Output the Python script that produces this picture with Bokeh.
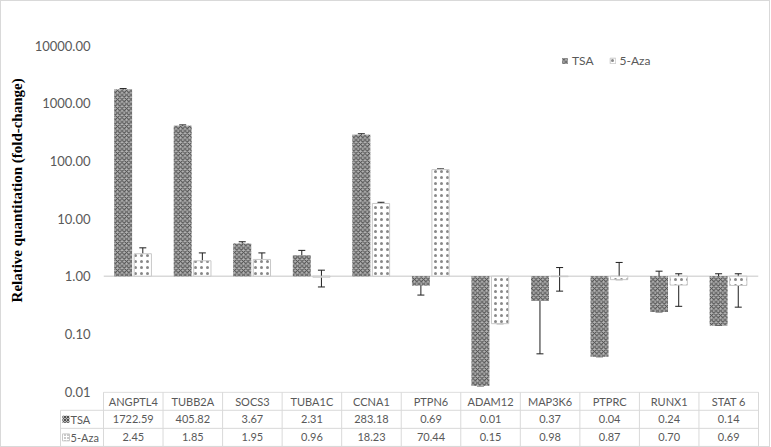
from bokeh.plotting import figure
from bokeh.models import (FactorRange, Range1d, ColumnDataSource, Whisker, Span,
                          Legend, LegendItem, FixedTicker, PrintfTickFormatter)
from bokeh.transform import dodge
from bokeh.core.properties import value
from bokeh.embed import file_html
from bokeh.resources import INLINE

# ---------------- data ----------------
genes = ["ANGPTL4", "TUBB2A", "SOCS3", "TUBA1C", "CCNA1", "PTPN6",
         "ADAM12", "MAP3K6", "PTPRC", "RUNX1", "STAT 6"]
series_names = ["TSA", "5-Aza"]
tsa = [1722.59, 405.82, 3.67, 2.31, 283.18, 0.69, 0.0125, 0.37, 0.04, 0.24, 0.14]
aza = [2.45, 1.85, 1.95, 0.96, 18.23, 70.44, 0.15, 0.98, 0.87, 0.70, 0.69]
tsa_upper = [1790, 420, 3.95, 2.80, 295, 0.93, 0.41, 0.70, 0.56, 1.22, 1.10]
tsa_lower = [1660, 392, 3.35, 1.78, 272, 0.47, 0.0125, 0.045, 0.04, 0.24, 0.14]
aza_upper = [3.10, 2.53, 2.53, 1.27, 19.1, 72.5, 0.64, 1.41, 1.73, 1.10, 1.10]
aza_lower = [1.84, 1.14, 1.31, 0.65, 17.4, 68.5, 0.15, 0.55, 0.87, 0.30, 0.29]
y_ticks = [0.01, 0.1, 1, 10, 100, 1000, 10000]
y_title = "Relative quantitation (fold-change)"

# ---------------- layout constants ----------------
W = 770
FL, FR = 103, 12
FT, FB = 45, 8
FH = 346
n = len(genes)
unit = (W - FL - FR) / n
GREY = "#595959"
EDGE = "#d9d9d9"
FONT = "Lato"
TITLE_SHIFT = "\u00a0" * 15   # moves the rotated title a little upward

TSA_STYLE = dict(fill_color="#b4b4b4", hatch_pattern="diagonal_cross",
                 hatch_color="#4c4c4c", hatch_scale=4.5, hatch_weight=1.1)
AZA_STYLE = dict(fill_color="white", hatch_pattern="dot",
                 hatch_color="#555555", hatch_scale=6, hatch_alpha=0.7)

src = ColumnDataSource(dict(gene=genes, tsa=tsa, aza=aza,
                            tsa_hi=tsa_upper, tsa_lo=tsa_lower,
                            aza_hi=aza_upper, aza_lo=aza_lower))

p = figure(width=W, height=FT + FH + FB, x_range=FactorRange(*genes),
           y_range=Range1d(y_ticks[0], y_ticks[-1]), y_axis_type="log",
           output_backend="svg", toolbar_location=None, title=None,
           min_border_left=FL, min_border_right=FR, min_border_top=FT,
           min_border_bottom=FB,
           styles={"box-shadow": f"inset 1px 1px 0 {EDGE}, inset -1px 0 0 {EDGE}"})
p.outline_line_color = None
p.border_fill_alpha = 0
p.grid.visible = False
p.xaxis.visible = False

base = Span(location=1, dimension="width", line_color=EDGE,
            line_width=1.5, level="underlay")
p.add_layout(base)

off1, off2 = -0.17, 0.16
r1 = p.vbar(x=dodge("gene", off1, range=p.x_range), top="tsa", bottom=1,
            width=0.30, source=src, line_color=None, **TSA_STYLE)
r2 = p.vbar(x=dodge("gene", off2, range=p.x_range), top="aza", bottom=1,
            width=0.29, source=src, line_color="#c8c8c8", line_width=1,
            **AZA_STYLE)

for off, hi, lo in [(off1, "tsa_hi", "tsa_lo"), (off2, "aza_hi", "aza_lo")]:
    w = Whisker(base=dodge("gene", off, range=p.x_range), upper=hi, lower=lo,
                source=src, line_color="#1e1e1e", line_width=1)
    w.upper_head.size = 7
    w.lower_head.size = 7
    w.upper_head.line_color = "#1e1e1e"
    w.lower_head.line_color = "#1e1e1e"
    p.add_layout(w)

ax = p.yaxis[0]
ax.ticker = FixedTicker(ticks=y_ticks)
ax.formatter = PrintfTickFormatter(format="%.2f")
ax.major_tick_line_color = None
ax.minor_tick_line_color = None
ax.major_tick_out = 0
ax.minor_tick_out = 0
ax.axis_line_color = None
ax.major_label_standoff = 13
ax.major_label_text_font = FONT
ax.major_label_text_font_size = "13px"
ax.major_label_text_color = GREY
ax.axis_label = TITLE_SHIFT + y_title
ax.axis_label_text_font = "Liberation Serif"
ax.axis_label_text_font_size = "15px"
ax.axis_label_text_font_style = "bold"
ax.axis_label_text_color = "black"
ax.axis_label_standoff = 7

legend = Legend(items=[LegendItem(label=series_names[0], renderers=[r1]),
                       LegendItem(label=series_names[1], renderers=[r2])],
                orientation="horizontal", location=(458, 323))
legend.glyph_width = 7
legend.glyph_height = 7
legend.label_height = 14
legend.label_standoff = 4
legend.spacing = 15
legend.padding = 0
legend.margin = 0
legend.border_line_color = None
legend.background_fill_alpha = 0
legend.label_text_font = FONT
legend.label_text_font_size = "12px"
legend.label_text_color = GREY
p.add_layout(legend, "center")

# ---------------- data table ----------------
TL, TR = 59, 11
x_start = (TL - FL) / unit
x_end = (W - TR - FL) / unit
lab_x = (TL + 1 - FL) / unit
nrows = len(series_names) + 1

t = figure(width=W, height=56, x_range=Range1d(x_start, x_end),
           y_range=Range1d(nrows + 0.06, -0.04), output_backend="svg",
           toolbar_location=None, title=None, min_border_left=TL,
           min_border_right=TR, min_border_top=0, min_border_bottom=0,
           styles={"margin-top": f"-{FB}px",
                   "box-shadow": f"inset 1px -1px 0 {EDGE}, inset -1px 0 0 {EDGE}"})
t.axis.visible = False
t.grid.visible = False
t.outline_line_color = None
t.background_fill_alpha = 0
t.border_fill_alpha = 0

x0s, y0s, x1s, y1s = [0], [0], [n], [0]
for r in range(1, nrows + 1):
    x0s.append(lab_x); x1s.append(n); y0s.append(r); y1s.append(r)
x0s.append(lab_x); x1s.append(lab_x); y0s.append(1); y1s.append(nrows)
for c in range(n + 1):
    x0s.append(c); x1s.append(c); y0s.append(0); y1s.append(nrows)
t.segment(x0=x0s, y0=y0s, x1=x1s, y1=y1s, line_color=EDGE, line_width=1)

cx = [i + 0.5 for i in range(n)]
txt = dict(text_align="center", text_baseline="middle", text_font=value(FONT),
           text_font_size="11px", text_color=GREY)
t.text(x=cx, y=[0.5] * n, text=genes, **txt)
t.text(x=cx, y=[1.5] * n, text=[f"{v:.2f}" for v in tsa], **txt)
t.text(x=cx, y=[2.5] * n, text=[f"{v:.2f}" for v in aza], **txt)

sw_x = (65.5 - FL) / unit
t.scatter(x=[sw_x], y=[1.5], marker="square", size=7, line_color=None,
          fill_color="#b4b4b4", hatch_pattern="diagonal_cross",
          hatch_color="#505050", hatch_scale=3, hatch_weight=1)
t.scatter(x=[sw_x], y=[2.5], marker="square", size=7, line_color="#c8c8c8",
          fill_color="white", hatch_pattern="dot", hatch_color="#404040",
          hatch_scale=3, hatch_alpha=0.7)
t.text(x=[(70 - FL) / unit] * 2, y=[1.5, 2.5], text=series_names,
       text_align="left", text_baseline="middle", text_font=value(FONT),
       text_font_size="11px", text_color=GREY)

open("out.html", "w").write(file_html([p, t], INLINE))
